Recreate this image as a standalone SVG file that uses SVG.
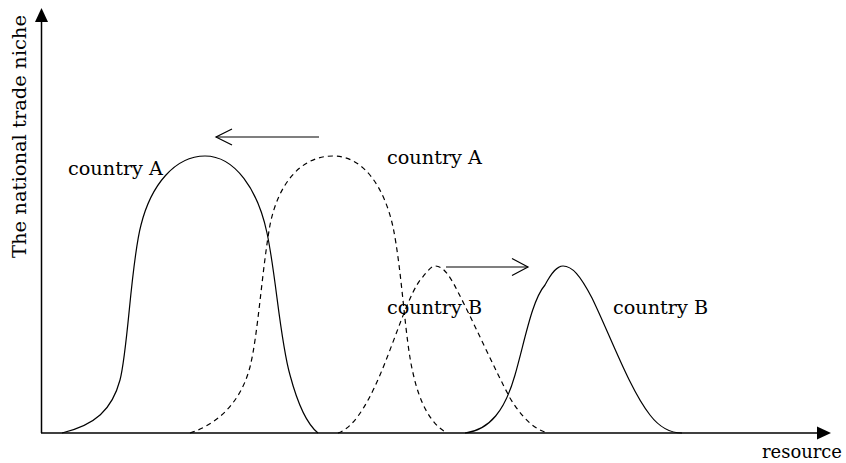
<svg xmlns="http://www.w3.org/2000/svg" width="846" height="463" viewBox="0 0 846 463">
<style>
text{font-family:"DejaVu Serif","Liberation Serif",serif;font-size:19px;fill:#000}
.axis{stroke:#000;stroke-width:1.5;fill:none}
.solid{stroke:#000;stroke-width:1.2;fill:none}
.dash{stroke:#000;stroke-width:1.2;fill:none;stroke-dasharray:5,4}
.arr{stroke:#000;stroke-width:1.2;fill:none}
</style>
<rect width="846" height="463" fill="#fff"/>
<g id="axes">
<line class="axis" x1="41.5" y1="433" x2="41.5" y2="20"/>
<polygon points="41.5,8 35,22 48,22" fill="#000"/>
<line class="axis" x1="41" y1="433" x2="818" y2="433"/>
<polygon points="831,433 817,426.5 817,439.5" fill="#000"/>
<text transform="translate(26,258) rotate(-90)" textLength="243" lengthAdjust="spacingAndGlyphs">The national trade niche</text>
<text x="762" y="458" textLength="80" lengthAdjust="spacingAndGlyphs">resource</text>
</g>
<g id="countryA-solid">
<path class="solid" d="M62,433 C95,425 112,410 120,380 C128,350 131,262 141,225 C151,185 175,156 205,156 C235,156 258,190 267,233 C276,275 280,340 290,375 C298,405 308,425 318,433"/>
<text x="68" y="175" textLength="95" lengthAdjust="spacingAndGlyphs">country A</text>
</g>
<g id="countryA-dashed">
<path class="dash" d="M190,433 C215,425 240,405 250,367 C258,335 262,270 270,225 C278,185 300,156 333,156 C365,156 385,190 393,227 C402,270 405,340 413,373 C420,405 432,425 447,433"/>
<text x="387" y="164" textLength="95" lengthAdjust="spacingAndGlyphs">country A</text>
</g>
<g id="countryB-dashed">
<path class="dash" d="M338,433 C352,428 365,410 380,375 C395,340 410,290 422,278 C428,270 432,266 435,266 C442,266 448,272 458,292 C475,325 495,370 510,398 C522,418 535,430 548,433"/>
<text x="387" y="314" textLength="95" lengthAdjust="spacingAndGlyphs">country B</text>
</g>
<g id="countryB-solid">
<path class="solid" d="M465,433 C490,430 505,410 515,375 C525,340 532,300 545,285 C552,272 557,266 563,266 C572,266 580,275 592,298 C610,335 630,390 650,415 C660,428 670,433 682,433"/>
<text x="613" y="314" textLength="95" lengthAdjust="spacingAndGlyphs">country B</text>
</g>
<g id="connectors">
<line class="arr" x1="319" y1="137" x2="216" y2="137"/>
<polyline class="arr" points="232,129 216,137 232,145"/>
<line class="arr" x1="446" y1="267" x2="528" y2="267"/>
<polyline class="arr" points="512,258.5 528,267 512,275.5"/>
</g>
</svg>
